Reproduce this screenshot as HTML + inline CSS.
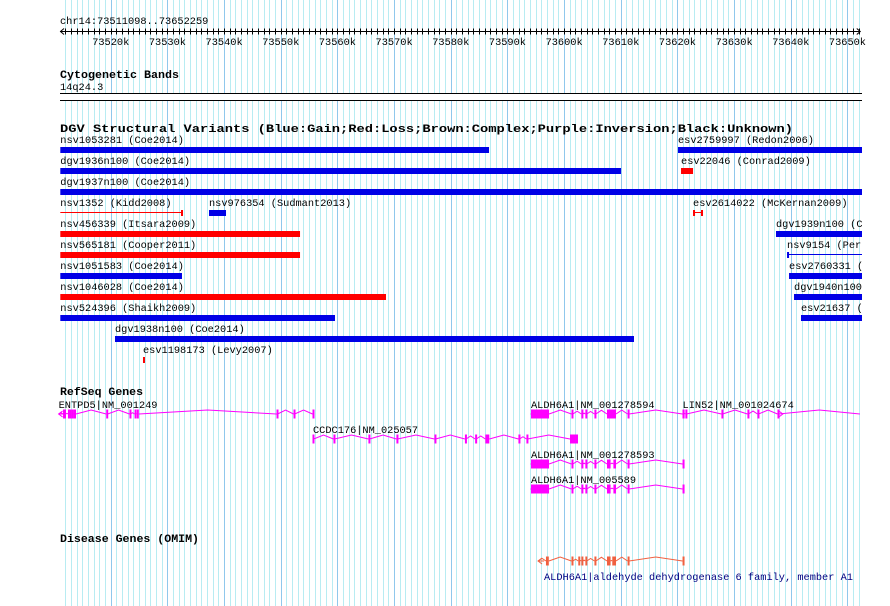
<!DOCTYPE html>
<html><head><meta charset="utf-8"><style>
html,body{margin:0;padding:0;background:#fff;}
svg{display:block;font-family:"Liberation Mono",monospace;}
</style></head><body>
<svg id="c" width="890" height="606" viewBox="0 0 890 606" xmlns="http://www.w3.org/2000/svg">
<defs><clipPath id="canvas"><rect x="0" y="0" width="862" height="606"/></clipPath></defs>
<rect width="890" height="606" fill="#fff"/>
<g id="grid"></g>
<g id="ruler"></g>
<text x="60" y="24" font-size="10.3">chr14:73511098..73652259</text>
<text x="60" y="78" font-size="11" font-weight="bold" textLength="119" lengthAdjust="spacingAndGlyphs">Cytogenetic Bands</text>
<text x="60" y="90" font-size="10.3">14q24.3</text>
<g>
<rect x="60" y="93.5" width="802" height="6.5" fill="#fff"/>
<line x1="60" x2="862" y1="93.5" y2="93.5" stroke="#000" stroke-width="1"/>
<line x1="60" x2="862" y1="100.5" y2="100.5" stroke="#000" stroke-width="1"/>
</g>
<text x="60" y="132" font-size="11" font-weight="bold" textLength="733" lengthAdjust="spacingAndGlyphs">DGV Structural Variants (Blue:Gain;Red:Loss;Brown:Complex;Purple:Inversion;Black:Unknown)</text>
<g id="dgv" clip-path="url(#canvas)"></g>
<text x="60" y="395" font-size="11" font-weight="bold" textLength="83" lengthAdjust="spacingAndGlyphs">RefSeq Genes</text>
<g id="genes" clip-path="url(#canvas)"></g>
<text x="60" y="542" font-size="11" font-weight="bold" textLength="139" lengthAdjust="spacingAndGlyphs">Disease Genes (OMIM)</text>
<text x="544" y="580" font-size="10.3" fill="#000080">ALDH6A1|aldehyde dehydrogenase 6 family, member A1</text>
</svg>
<script>
// ---- data (kb coordinates) ----
const viewStart = 73511.098;
const viewEnd = 73652.259;
const tickLabels = ["73520k","73530k","73540k","73550k","73560k","73570k","73580k","73590k","73600k","73610k","73620k","73630k","73640k","73650k"];
const majorTicks = [73520,73530,73540,73550,73560,73570,73580,73590,73600,73610,73620,73630,73640,73650];

const svNames = ["nsv1053281 (Coe2014)","esv2759997 (Redon2006)","dgv1936n100 (Coe2014)","esv22046 (Conrad2009)","dgv1937n100 (Coe2014)","nsv1352 (Kidd2008)","nsv976354 (Sudmant2013)","esv2614022 (McKernan2009)","nsv456339 (Itsara2009)","dgv1939n100 (Coe2014)","nsv565181 (Cooper2011)","nsv9154 (Perry2008)","nsv1051583 (Coe2014)","esv2760331 (Vogler2010)","nsv1046028 (Coe2014)","dgv1940n100 (Coe2014)","nsv524396 (Shaikh2009)","esv21637 (Conrad2009)","dgv1938n100 (Coe2014)","esv1198173 (Levy2007)"];
const svStarts = [73511.1,73620.1,73511.1,73620.63,73511.1,73511.1,73537.34,73622.75,73511.1,73637.39,73511.1,73639.34,73511.1,73639.69,73511.1,73640.57,73511.1,73641.8,73520.75,73525.69];
const svEnds = [73586.75,73652.6,73610.04,73622.75,73652.6,73532.75,73540.34,73624.51,73553.4,73652.6,73553.4,73652.6,73532.57,73652.6,73568.57,73652.6,73559.57,73652.6,73612.33,73526.04];
const svRows = [0,0,1,1,2,3,3,3,4,4,5,5,6,6,7,7,8,8,9,10];
const svTypes = ["gain","gain","gain","loss","gain","loss","gain","loss","loss","gain","loss","gain","gain","gain","loss","gain","gain","gain","gain","loss"];
const svThin = [0,0,0,0,0,1,0,1,0,0,0,1,0,0,0,0,0,0,0,0];

const geneNames = ["ENTPD5|NM_001249","CCDC176|NM_025057","ALDH6A1|NM_001278594","LIN52|NM_001024674","ALDH6A1|NM_001278593","ALDH6A1|NM_005589","OMIM ALDH6A1"];
const geneRows = [0,1,0,0,2,3,4];
const geneStrand = ["-","+","-","+","-","-","-"];
const geneStarts = [73510.8,73555.69,73594.16,73620.9,73594.16,73594.16,73595.4];
const geneEnds = [73555.8,73602.45,73621.1,73652.2,73621.1,73621.1,73621.1];
const geneExons = [
 [[73511.58,73512.1],[73512.45,73512.6],[73512.8,73513.0],[73513.15,73513.3],[73513.5,73513.87],[73519.2,73519.45],[73523.3,73523.5],[73524.2,73524.4],[73524.6,73524.95],[73549.25,73549.45],[73552.25,73552.45],[73555.6,73555.8]],
 [[73555.6,73555.8],[73559.3,73559.5],[73565.47,73565.67],[73570.41,73570.61],[73577.12,73577.32],[73582.5,73582.7],[73584.3,73584.5],[73586.1,73586.8],[73591.94,73592.14],[73593.35,73593.55],[73601.04,73602.45]],
 [[73594.16,73597.34],[73601.3,73601.55],[73603.05,73603.3],[73603.75,73604.0],[73605.35,73605.6],[73607.57,73609.16],[73611.2,73611.45],[73620.9,73621.1]],
 [[73620.9,73621.1],[73621.4,73621.6],[73627.76,73627.96],[73632.35,73632.55],[73634.12,73634.32],[73637.65,73637.85]],
 [[73594.16,73597.34],[73601.3,73601.55],[73603.05,73603.3],[73603.75,73604.0],[73605.35,73605.6],[73607.57,73608.2],[73608.7,73609.16],[73611.2,73611.45],[73620.9,73621.1]],
 [[73594.16,73597.34],[73601.3,73601.55],[73603.05,73603.3],[73603.75,73604.0],[73605.35,73605.6],[73607.57,73608.2],[73608.7,73609.16],[73611.2,73611.45],[73620.9,73621.1]],
 [[73596.8,73597.3],[73601.3,73601.55],[73602.5,73602.75],[73603.05,73603.3],[73603.75,73604.0],[73605.35,73605.6],[73607.57,73608.2],[73608.5,73609.16],[73611.2,73611.45],[73620.9,73621.1]]
];
const geneShowLabel = [1,1,1,1,1,1,0];

// ---- scales ----
const X0 = 60.3, PXKB = 5.667;
function x(kb){ return X0 + (kb - viewStart) * PXKB; }
function xs(kb){ return Math.round(x(kb)) + 0.5; }
const NS = "http://www.w3.org/2000/svg";
function mk(tag, attrs, parent){ const e=document.createElementNS(NS,tag); for(const k in attrs) e.setAttribute(k,attrs[k]); parent.appendChild(e); return e; }

// grid
const grid = document.getElementById('grid');
for(let k=Math.ceil(viewStart); k<=Math.floor(viewEnd); k++){
  const major = k%10===0;
  const l = mk('line',{x1:xs(k),x2:xs(k),y1:0,y2:606,stroke:major?'#90c8ec':'#b8ecf2','stroke-width':1},grid);
  
  
}
// ruler
const ruler = document.getElementById('ruler');
const rl = mk('line',{x1:60,x2:x(viewEnd),y1:31.5,y2:31.5,stroke:'#000','stroke-width':1},ruler);


mk('polyline',{points:'64,28.5 60.5,31.5 64,34.5',fill:'none',stroke:'#000'},ruler);
mk('polyline',{points:(x(viewEnd)-3.5)+',28.5 '+x(viewEnd)+',31.5 '+(x(viewEnd)-3.5)+',34.5',fill:'none',stroke:'#000'},ruler);
for(let k=Math.ceil(viewStart); k<=Math.floor(viewEnd); k++){
  const t = mk('line',{x1:xs(k),x2:xs(k),y1:28.5,y2:34.5,stroke:'#000','stroke-width':1},ruler);
  
  
}
majorTicks.forEach((k,i)=>{
  const t = mk('text',{x:x(k),y:45,'font-size':'10.3','text-anchor':'middle'},ruler);
  t.textContent = tickLabels[i];
  
  
});

// DGV
const dgv = document.getElementById('dgv');
svNames.forEach((n,i)=>{
  const col = svTypes[i]==='gain' ? '#0000e6' : '#ff0000';
  const y = 147 + 21*svRows[i];
  const x1 = x(svStarts[i]), x2 = x(svEnds[i]);
  const lab = mk('text',{x:x1,y:y-4,'font-size':'10.3'},dgv);
  lab.textContent = n;
  
  
  let b;
  if(svThin[i]){
    b = mk('g',{},dgv);
    mk('rect',{x:x1,y:y+2,width:Math.max(1,x2-x1),height:1,fill:col},b);
    if(svTypes[i]==='loss') mk('rect',{x:x2-2,y:y,width:2,height:6,fill:col},b);
    if(svStarts[i]>73600 || svTypes[i]==='gain') mk('rect',{x:x1,y:y,width:2,height:6,fill:col},b);
  } else {
    b = mk('rect',{x:x1,y:y,width:Math.max(2,x2-x1),height:6,fill:col},dgv);
  }
  
  
});

// Genes
const genes = document.getElementById('genes');
geneNames.forEach((n,i)=>{
  const omim = i===6;
  const col = omim ? '#f06040' : '#ff00ff';
  const cy = omim ? 561 : 414 + 25*geneRows[i];
  const g = mk('g',{},genes);
  
  
  if(geneShowLabel[i]){
    const t = mk('text',{x:x(geneStarts[i]),y:cy-6,'font-size':'10.3'},g);
    t.textContent = n;
  }
  const ex = geneExons[i];
  let prev = geneStarts[i];
  const segs = [];
  ex.forEach(e=>{ segs.push([prev,e[0]]); prev=e[1]; });
  segs.push([prev,geneEnds[i]]);
  segs.forEach(s=>{
    const a=x(s[0]), b=x(s[1]);
    if(b-a<1) return;
    const m=(a+b)/2, h=Math.min(4,(b-a)/3);
    mk('polyline',{points:a+','+cy+' '+m+','+(cy-h)+' '+b+','+cy,fill:'none',stroke:col,'stroke-width':1},g);
  });
  ex.forEach(e=>{
    mk('rect',{x:x(e[0]),y:cy-4.5,width:Math.max(2,x(e[1])-x(e[0])),height:9,fill:col},g);
  });
  if(geneStrand[i]==='-'){
    const ax=x(geneStarts[i]);
    mk('polyline',{points:(ax+4)+','+(cy-3)+' '+ax+','+cy+' '+(ax+4)+','+(cy+3),fill:'none',stroke:col},g);
    mk('line',{x1:ax,x2:ax+6,y1:cy,y2:cy,stroke:col},g);
  }
  if(i===3){
    const ax=x(73638.6);
    mk('polyline',{points:(ax-4)+','+(cy-3)+' '+ax+','+cy+' '+(ax-4)+','+(cy+3),fill:'none',stroke:col},g);
  }
});
</script>
</body></html>
